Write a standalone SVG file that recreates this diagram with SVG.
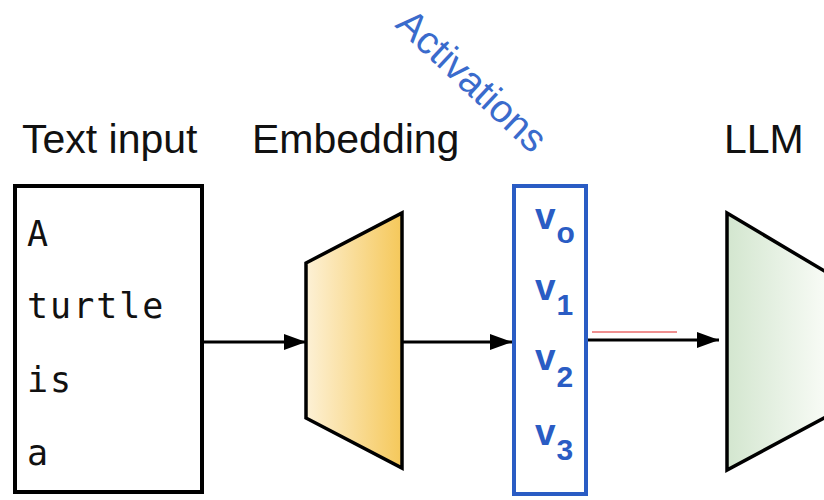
<svg xmlns="http://www.w3.org/2000/svg" width="824" height="500" viewBox="0 0 824 500">
  <defs>
    <linearGradient id="embedFill" x1="0" y1="0" x2="1" y2="0">
      <stop offset="0" stop-color="#fdf1d6"/>
      <stop offset="1" stop-color="#f5c85a"/>
    </linearGradient>
    <linearGradient id="llmFill" x1="0" y1="0" x2="1" y2="0">
      <stop offset="0" stop-color="#d3e6cf"/>
      <stop offset="1" stop-color="#f8fbf6"/>
    </linearGradient>
    <marker id="arrow" viewBox="0 0 22 16" refX="22" refY="8" markerWidth="22" markerHeight="16" markerUnits="userSpaceOnUse" orient="auto">
      <path d="M0,0 L22,8 L0,16 Z" fill="#000"/>
    </marker>
    <style>
      .label { font-family: "Liberation Sans", Arial, sans-serif; font-size: 41px; fill: #111; }
      .word { font-family: "DejaVu Sans Mono", monospace; font-size: 35px; letter-spacing: 2px; fill: #111; }
      .vec { font-family: "Liberation Sans", Arial, sans-serif; font-weight: bold; font-size: 37px; fill: #2a5cc4; }
      .sub { font-size: 30px; }
      .link { stroke: #000; stroke-width: 3; fill: none; marker-end: url(#arrow); }
      .shape { stroke: #000; stroke-width: 3.5; stroke-linejoin: miter; }
    </style>
  </defs>

  <!-- column headings -->
  <text class="label" x="22" y="153">Text input</text>
  <text class="label" x="252" y="153">Embedding</text>
  <text class="label" x="724" y="153">LLM</text>
  <text x="394" y="26" transform="rotate(43 394 26)" font-family="Liberation Sans, Arial, sans-serif" font-size="39" fill="#3a6bcc">Activations</text>

  <!-- text input box -->
  <g id="text-input">
    <rect x="15" y="186" width="187" height="306" fill="#fff" stroke="#000" stroke-width="4"/>
    <text class="word" x="27" y="246">A</text>
    <text class="word" x="27" y="318">turtle</text>
    <text class="word" x="27" y="392">is</text>
    <text class="word" x="27" y="465">a</text>
  </g>

  <!-- embedding layer -->
  <g id="embedding">
    <polygon class="shape" points="306,263 402,213 402,468 306,418" fill="url(#embedFill)"/>
  </g>

  <!-- activation vectors -->
  <g id="activations">
    <rect x="514" y="186" width="72" height="308" fill="#fff" stroke="#2a5cc4" stroke-width="4"/>
    <text class="vec" x="535" y="229">v<tspan class="sub" dx="1" dy="14">o</tspan></text>
    <text class="vec" x="535" y="300">v<tspan class="sub" dx="1" dy="15">1</tspan></text>
    <text class="vec" x="535" y="370">v<tspan class="sub" dx="1" dy="17">2</tspan></text>
    <text class="vec" x="535" y="445">v<tspan class="sub" dx="1" dy="15">3</tspan></text>
  </g>

  <!-- language model -->
  <g id="llm">
    <polygon class="shape" points="727,213 826,272 826,417 727,470" fill="url(#llmFill)"/>
  </g>

  <!-- connectors -->
  <g id="connectors">
    <line class="link" x1="203" y1="342" x2="306" y2="342"/>
    <line class="link" x1="403" y1="342" x2="512" y2="342"/>
    <line class="link" x1="588" y1="340" x2="719" y2="340" stroke-width="3.5"/>
    <line x1="592" y1="332" x2="677" y2="332" stroke="#e02020" stroke-width="1"/>
  </g>
</svg>
